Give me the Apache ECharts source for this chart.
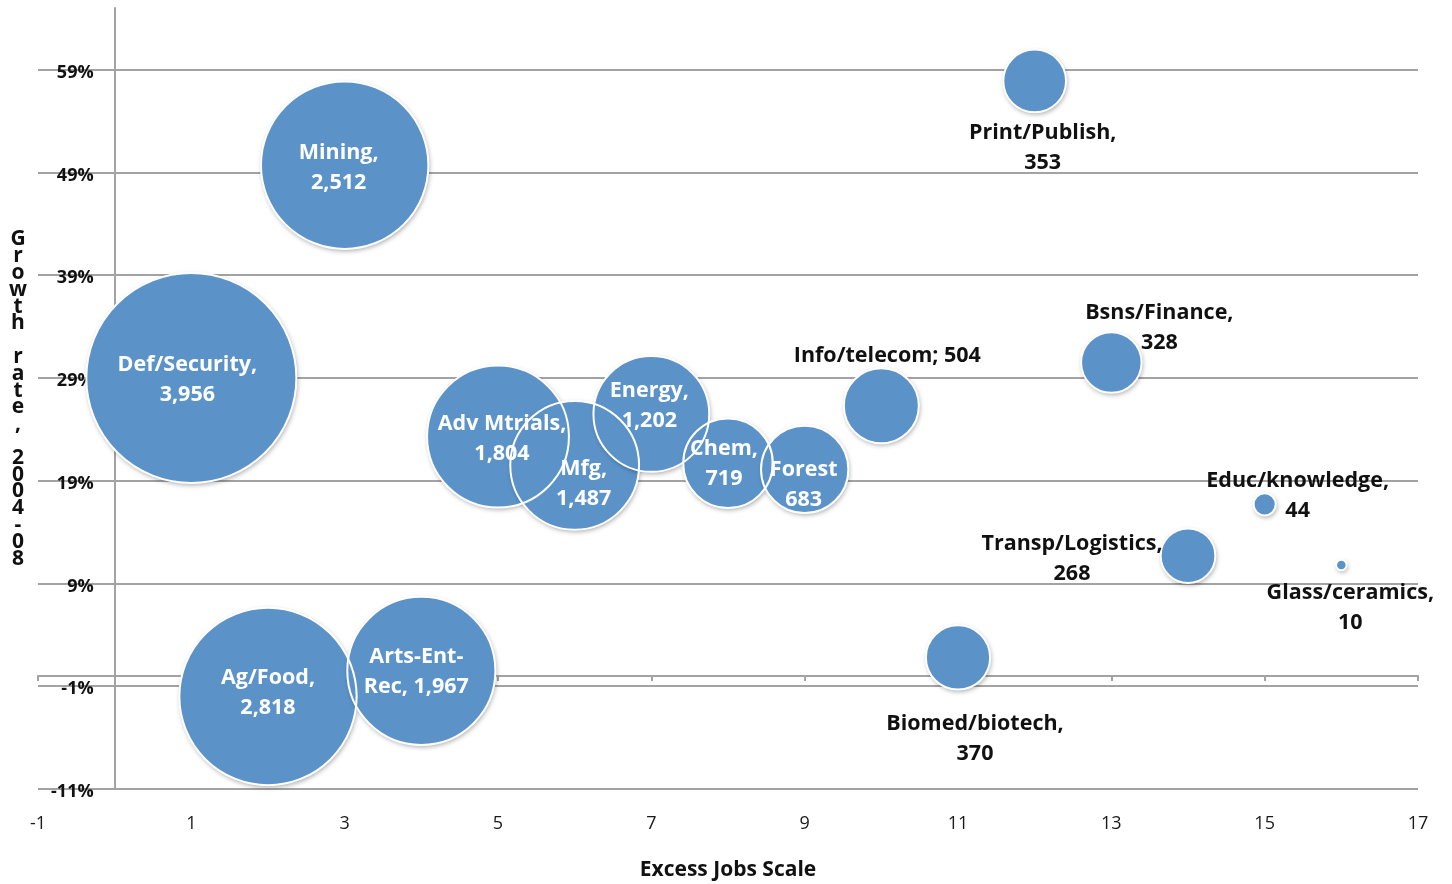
<!DOCTYPE html>
<html>
<head>
<meta charset="utf-8">
<title>Growth rate vs Excess Jobs Scale</title>
<script src="https://cdn.jsdelivr.net/npm/echarts@6/dist/echarts.min.js"></script>
<style>
  html, body { margin: 0; padding: 0; background: #ffffff; }
  #chart { width: 1452px; height: 884px; }
</style>
</head>
<body>
<div id="chart"></div>
<script>
// Industry clusters: position on the excess-jobs scale, 2004-08 growth rate (%), jobs
const sectors = ['Def/Security', 'Mining', 'Ag/Food', 'Arts-Ent-Rec', 'Adv Mtrials', 'Mfg',
  'Energy', 'Chem', 'Forest', 'Info/telecom', 'Biomed/biotech', 'Print/Publish',
  'Bsns/Finance', 'Transp/Logistics', 'Educ/knowledge', 'Glass/ceramics'];
const excessJobs = [1, 3, 2, 4, 5, 6, 7, 8, 9, 10, 11, 12, 13, 14, 15, 16];
const growthRate = [29, 49.7, -2, 0.5, 23.3, 20.5, 25.5, 20.7, 20.1, 26.3, 1.8, 57.9, 30.5, 11.7, 16.7, 10.8];
const jobs = [3956, 2512, 2818, 1967, 1804, 1487, 1202, 719, 683, 504, 370, 353, 328, 268, 44, 10];
// Label text per bubble; {v} is replaced by the formatted job count
const labelTemplates = ['Def/Security,\n{v}', 'Mining,\n{v}', 'Ag/Food,\n{v}', 'Arts-Ent-\nRec, {v}',
  'Adv Mtrials,\n{v}', 'Mfg,\n{v}', 'Energy,\n{v}', 'Chem,\n{v}', 'Forest\n{v}', 'Info/telecom; {v}',
  'Biomed/biotech,\n{v}', 'Print/Publish,\n{v}', 'Bsns/Finance,\n{v}', 'Transp/Logistics,\n{v}',
  'Educ/knowledge,\n{v}', 'Glass/ceramics,\n{v}'];
const xTicks = [-1, 1, 3, 5, 7, 9, 11, 13, 15, 17];
const yTicks = [-11, -1, 9, 19, 29, 39, 49, 59];

// Label placement (offset from bubble centre, in px) and whether the label sits inside the bubble
const labelPlacement = {
  'Def/Security': { off: [-3, 3], inside: true },
  'Mining': { off: [-5, 4], inside: true },
  'Ag/Food': { off: [1, -3], inside: true },
  'Arts-Ent-Rec': { off: [-4, 2], inside: true },
  'Adv Mtrials': { off: [5, 3], inside: true },
  'Mfg': { off: [10, 20], inside: true },
  'Energy': { off: [-1, -7], inside: true },
  'Chem': { off: [-3, 2], inside: true },
  'Forest': { off: [0, 16], inside: true },
  'Info/telecom': { off: [7, -49], inside: false },
  'Biomed/biotech': { off: [18, 82], inside: false },
  'Print/Publish': { off: [9, 68], inside: false },
  'Bsns/Finance': { off: [49, -34], inside: false },
  'Transp/Logistics': { off: [-115, 4], inside: false },
  'Educ/knowledge': { off: [34, -7], inside: false },
  'Glass/ceramics': { off: [10, 44], inside: false }
};

const FONT = '"Open Sans", "DejaVu Sans", sans-serif';
const GRID_GRAY = '#a3a3a3';
const BUBBLE_BLUE = '#5b93c9';

const GRID = { left: 38, right: 34, top: 8, bottom: 95 };
const X_MIN = -1, X_MAX = 17;
// the vertical axis stands at x = 0, one unit in from the left edge of the plot
const plotWidth = 1452 - GRID.left - GRID.right;
const yAxisShift = plotWidth * (0 - X_MIN) / (X_MAX - X_MIN);

const bubbleSize = (val) => 3.34 * Math.sqrt(val[2]);

const points = sectors.map((name, i) => ({
  name: name,
  value: [excessJobs[i], growthRate[i], jobs[i]]
}));

const labelled = points.map((p, i) => {
  const place = labelPlacement[p.name];
  const half = bubbleSize(p.value) / 2;
  return {
    name: p.name,
    value: p.value,
    label: {
      show: true,
      position: [half + place.off[0], half + place.off[1]],
      align: 'center',
      verticalAlign: 'middle',
      color: place.inside ? '#ffffff' : '#111111',
      formatter: () => labelTemplates[i].replace('{v}', jobs[i].toLocaleString('en-US'))
    }
  };
});

const chart = echarts.init(document.getElementById('chart'), null, { renderer: 'canvas' });

chart.setOption({
  backgroundColor: '#ffffff',
  animation: false,
  textStyle: { fontFamily: FONT },
  grid: Object.assign({ containLabel: false, outerBoundsMode: 'none' }, GRID),
  xAxis: [
    {
      // axis line crossing at 0% with short tick marks
      type: 'value',
      min: X_MIN, max: X_MAX, interval: 2,
      axisLine: { show: true, onZero: true, lineStyle: { color: GRID_GRAY, width: 2 } },
      axisTick: { show: true, length: 5, lineStyle: { color: GRID_GRAY, width: 2 } },
      axisLabel: { show: false },
      splitLine: { show: false }
    },
    {
      // labels and title along the bottom edge
      type: 'value',
      position: 'bottom',
      min: X_MIN, max: X_MAX, interval: 2,
      axisLine: { show: false, onZero: false },
      axisTick: { show: false },
      splitLine: { show: false },
      axisLabel: {
        show: true, margin: 26, color: '#1a1a1a', fontSize: 18, fontFamily: FONT,
        formatter: (v) => (xTicks.includes(v) ? String(v) : '')
      },
      name: 'Excess Jobs Scale',
      nameLocation: 'middle',
      nameGap: 71,
      nameTextStyle: { color: '#111111', fontSize: 21, fontWeight: 'bold', fontFamily: FONT }
    }
  ],
  yAxis: {
    type: 'value',
    min: -11, max: 65, interval: 10,
    offset: -yAxisShift,
    axisLine: { show: true, onZero: false, lineStyle: { color: GRID_GRAY, width: 2 } },
    axisTick: { show: false },
    axisLabel: {
      show: true, margin: 21, color: '#111111', fontSize: 18, fontWeight: 'bold', fontFamily: FONT,
      showMaxLabel: false,
      formatter: (v) => (yTicks.includes(v) ? '{p|' + v + '%}' : ''),
      rich: {
        p: { padding: [6, 0, 0, 0], fontSize: 18, fontWeight: 'bold', fontFamily: FONT, color: '#111111' }
      }
    },
    splitLine: { show: true, showMaxLine: false, lineStyle: { color: GRID_GRAY, width: 2 } }
  },
  graphic: [
    {
      type: 'text',
      x: 18, y: 399,
      style: {
        text: 'Growth rate, 2004-08'.split('').join('\n'),
        align: 'center',
        verticalAlign: 'middle',
        lineHeight: 16.8,
        fill: '#111111',
        font: 'bold 21px ' + FONT
      }
    }
  ],
  series: [
    {
      // bubble fills with soft drop shadow
      type: 'scatter',
      xAxisIndex: 0,
      data: points,
      symbol: 'circle',
      symbolSize: bubbleSize,
      z: 2,
      itemStyle: {
        color: BUBBLE_BLUE,
        opacity: 1,
        shadowColor: 'rgba(0,0,0,0.35)',
        shadowBlur: 5,
        shadowOffsetX: 1,
        shadowOffsetY: 2
      },
      emphasis: { disabled: true }
    },
    {
      // white outlines drawn over every fill, plus labels
      type: 'scatter',
      xAxisIndex: 0,
      data: labelled,
      symbol: 'circle',
      symbolSize: bubbleSize,
      z: 3,
      itemStyle: {
        color: 'rgba(0,0,0,0)',
        opacity: 1,
        borderColor: '#ffffff',
        borderWidth: 2
      },
      label: {
        fontFamily: FONT,
        fontSize: 21.5,
        fontWeight: 'bold',
        lineHeight: 30
      },
      labelLayout: { hideOverlap: false },
      emphasis: { disabled: true }
    }
  ]
});
</script>
</body>
</html>
